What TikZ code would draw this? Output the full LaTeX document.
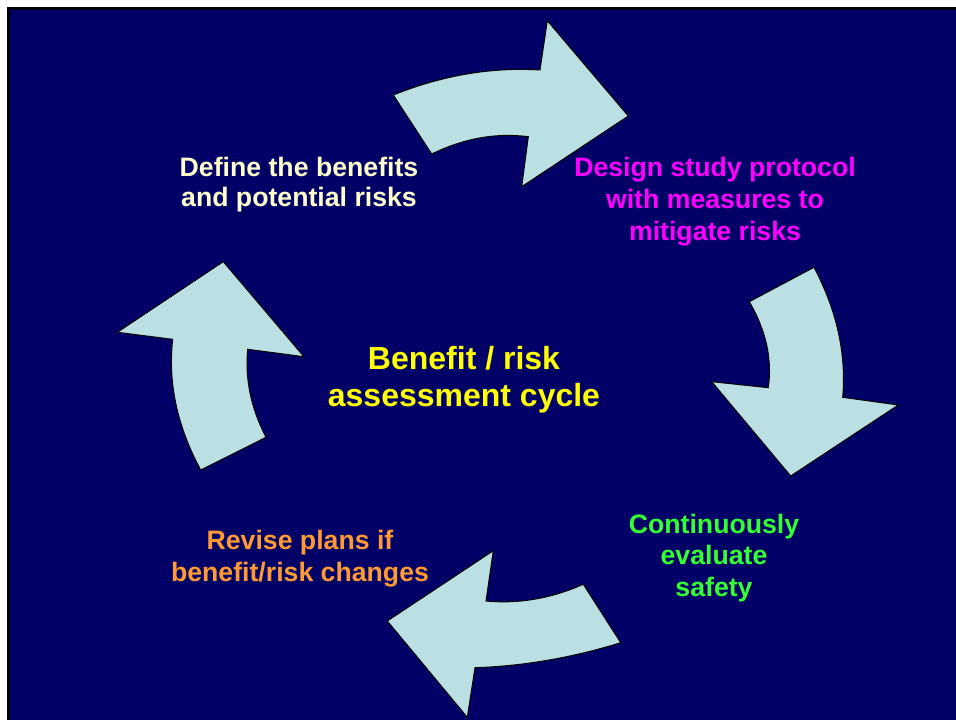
\documentclass[tikz,border=0pt]{standalone}
\usepackage{fontspec}
\setmainfont{Liberation Sans}
\definecolor{slidenavy}{RGB}{0,0,102}
\definecolor{arrowcyan}{RGB}{186,224,227}
\definecolor{definecream}{RGB}{255,255,204}
\definecolor{designmagenta}{RGB}{255,0,255}
\definecolor{cycleyellow}{RGB}{255,255,0}
\definecolor{evalgreen}{RGB}{51,255,51}
\definecolor{reviseorange}{RGB}{255,153,51}
\tikzset{every picture/.style={line width=0.75pt}}

\begin{document}
\begin{tikzpicture}[x=0.75pt,y=0.75pt,yscale=-1,xscale=1,
  cyclearrow/.style={draw=black,fill=arrowcyan,line width=0.75pt,line join=miter},
  steptext/.style={font=\bfseries\fontsize{20}{#1}\selectfont,align=center,inner sep=0pt},
  steptext/.default=24]
\useasboundingbox (0,0) rectangle (956,720);

%Shape: Slide background
\fill [white] (0,0) rectangle (956,720);
\draw [black,fill=slidenavy,line width=2.25pt] (8.5,8.5) rectangle (975,740);

%Shape: Curved Arrow top
\draw [cyclearrow] (393.3,95) .. controls (442.2,75.4) and (491.1,67) .. (540,70) -- (547.3,20.7) -- (628.3,116) -- (521.7,186.7) -- (528.3,136.7) .. controls (496.1,132.6) and (463.9,138.3) .. (431.7,154) -- cycle ;
%Shape: Curved Arrow right
\draw [cyclearrow] (814,267.3) -- (749.3,301.7) .. controls (766,330.4) and (772.4,359) .. (768.3,387.7) -- (711.7,381.7) -- (790.7,476) -- (898.3,405) -- (842.7,397.3) .. controls (846.4,354) and (836.9,310.6) .. (814,267.3) -- cycle ;
%Shape: Curved Arrow bottom
\draw [cyclearrow] (583.3,584.3) -- (620.7,642.7) .. controls (572.1,657.7) and (523.6,666.1) .. (475,667.7) -- (467.3,717.3) -- (387.3,621) -- (493.3,550.7) -- (486,601) .. controls (518.4,604.1) and (551,598.6) .. (583.3,584.3) -- cycle ;
%Shape: Curved Arrow left
\draw [cyclearrow] (200.7,470) -- (266,437.3) .. controls (250.9,408) and (244.8,378.6) .. (247.7,349.3) -- (304,356.7) -- (223.3,261.7) -- (117.3,332.3) -- (172.7,339.3) .. controls (167.8,382.9) and (177.2,426.4) .. (200.7,470) -- cycle ;

% Text Node
\node [steptext=22.5,text=definecream] (define) at (299,185) {Define the benefits\\and potential risks};
% Text Node
\node [steptext,text=designmagenta] (design) at (715,202) {Design study protocol\\with measures to\\mitigate risks};
% Text Node
\node [steptext=28,font=\bfseries\fontsize{24}{28}\selectfont,text=cycleyellow] (cycle) at (464,380) {Benefit / risk\\assessment cycle};
% Text Node
\node [steptext=23.4,text=evalgreen] (evaluate) at (714,558) {Continuously\\evaluate\\safety};
% Text Node
\node [steptext,text=reviseorange] (revise) at (300,559) {Revise plans if\\benefit/risk changes};

\end{tikzpicture}
\end{document}
